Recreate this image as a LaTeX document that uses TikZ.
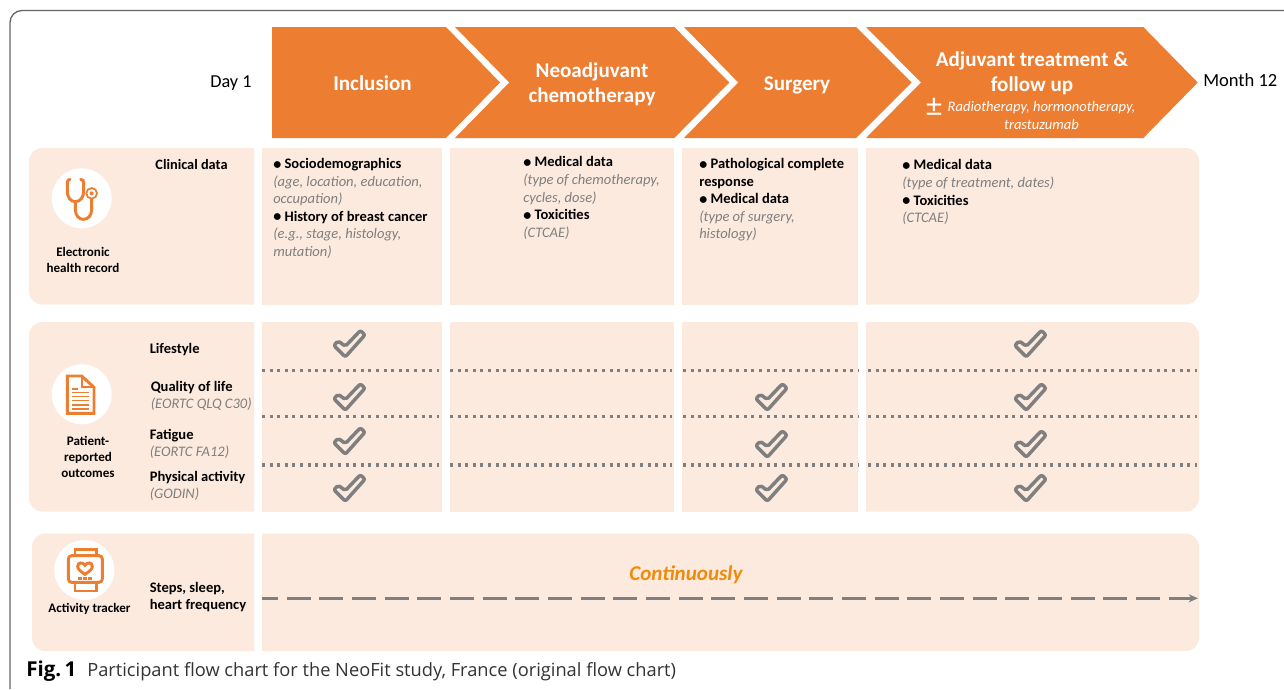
\documentclass[tikz,border=0pt]{standalone}
\usepackage{fontspec}
\setmainfont{Carlito}
\newfontfamily\capfont{Open Sans}
\usetikzlibrary{arrows.meta}
\definecolor{orng}{HTML}{ED7D31}
\definecolor{panel}{HTML}{FCEADF}
\definecolor{gry}{HTML}{7F7F7F}
\definecolor{contc}{HTML}{EE8A0C}
\definecolor{frm}{HTML}{666666}
\newcommand{\itb}[1]{{\bfseries\makebox[8.5pt][l]{\raisebox{-0.5pt}{\fontsize{12pt}{12pt}\selectfont\textbullet}}#1}}
\newcommand{\nte}[1]{{\itshape\color{gry}#1}}
\tikzset{
  x=0.75pt,y=-0.75pt,
  chev/.style={fill=orng,draw=none},
  pnl/.style={fill=panel,draw=none},
  head/.style={text=white,font=\fontsize{15.8pt}{18.7pt}\selectfont\bfseries,align=center,inner sep=0pt},
  side/.style={font=\fontsize{9.8pt}{12pt}\selectfont\bfseries,align=center,inner sep=0pt},
  rowl/.style={font=\fontsize{10.9pt}{12.9pt}\selectfont,align=left,anchor=west,inner sep=0pt},
  blk/.style={font=\fontsize{10.9pt}{13.15pt}\selectfont,align=left,anchor=north west,inner sep=0pt},
  dotl/.style={draw=gry,line width=2.3pt,dash pattern=on 2.3pt off 3.4pt},
  icon/.style={draw=orng,line width=2.2pt,fill=none},
  chk/.pic={
    \draw[draw=gry,line width=2.6pt,fill=panel,line join=round,rounded corners=1.5pt]
      (-15.2,1.7) -- (-10.8,-2.8) -- (-3.7,2.6) -- (11.4,-13.2) -- (16,-8.8) -- (-3.7,13.2) -- cycle;
  }
}
\begin{document}
\begin{tikzpicture}
\useasboundingbox (0,0) rectangle (1284,689);
\fill[white] (0,0) rectangle (1284,689);
% frame
\draw[draw=frm,line width=1pt,rounded corners=9pt] (1284,10.5) -- (10,10.5) -- (10,689);
% chevrons
\fill[chev] (272,27) -- (446,27) -- (500,82.5) -- (446,138) -- (272,138) -- cycle;
\fill[chev] (455,27) -- (674.3,27) -- (729.3,82.5) -- (674.3,138) -- (455,138) -- (509.3,82.5) -- cycle;
\fill[chev] (684,27) -- (856,27) -- (911.7,82.5) -- (856,138) -- (684,138) -- (738.3,82.5) -- cycle;
\fill[chev] (866,27) -- (1143.3,27) -- (1197.7,82.5) -- (1143.3,138) -- (866,138) -- (921,82.5) -- cycle;
% row 1 panels
\fill[pnl] (254,148) [rounded corners=10pt] -- (29,148) -- (29,304.5) [sharp corners] -- (254,304.5) -- cycle;
\fill[pnl] (262,148) rectangle (441.7,304.5);
\fill[pnl] (450,148) rectangle (674,304.5);
\fill[pnl] (681.7,148) rectangle (858,304.5);
\fill[pnl] (866,148) [rounded corners=10pt] -- (1199,148) -- (1199,304.5) [sharp corners] -- (866,304.5) -- cycle;
% row 2 panels
\fill[pnl] (254,322) [rounded corners=10pt] -- (29,322) -- (29,511.5) [sharp corners] -- (254,511.5) -- cycle;
\fill[pnl] (262,322) rectangle (441.7,511.5);
\fill[pnl] (450,322) rectangle (674,511.5);
\fill[pnl] (681.7,322) rectangle (858,511.5);
\fill[pnl] (866,322) [rounded corners=10pt] -- (1199,322) -- (1199,511.5) [sharp corners] -- (866,511.5) -- cycle;
% row 3 panels
\fill[pnl] (254,533.5) [rounded corners=10pt] -- (32,533.5) -- (32,651) [sharp corners] -- (254,651) -- cycle;
\fill[pnl] (262,533.5) [rounded corners=10pt] -- (1199,533.5) -- (1199,651) [sharp corners] -- (262,651) -- cycle;
% dotted separators
\foreach \yy in {370.4,416.7,465}{
  \draw[dotl] (262,\yy) -- (439,\yy);
  \draw[dotl] (450,\yy) -- (672,\yy);
  \draw[dotl] (683,\yy) -- (858,\yy);
  \draw[dotl] (868,\yy) -- (1197,\yy);
}
% white icon discs
\fill[white] (81.7,198.3) circle (30);
\fill[white] (81.7,394.3) circle (30);
\fill[white] (84.3,570) circle (30);
% stethoscope
\begin{scope}[shift={(40,160)},x=0.25pt,y=-0.25pt]
  \draw[icon,line cap=round] (90,58) .. controls (80,60) and (82,70) .. (82,78) -- (82,95) .. controls (82,112) and (92,125) .. (106,125) .. controls (120,125) and (131,112) .. (131,95) -- (131,70) .. controls (131,62) and (130,60) .. (122,58);
  \draw[icon,line cap=round] (106,125) -- (106,148) .. controls (106,168) and (118,178) .. (130,178) .. controls (143,178) and (155,168) .. (155,148) -- (155,118);
  \draw[draw=orng,line width=1.3pt] (155,100) circle (16);
  \fill[orng] (155,100) circle (6);
\end{scope}
% document
\begin{scope}[shift={(40,355)},x=0.25pt,y=-0.25pt]
  \draw[icon,line join=miter] (82,63) -- (125,63) -- (162,97) -- (162,175) -- (82,175) -- cycle;
  \draw[icon,line width=1.4pt] (125,63) -- (125,97) -- (162,97);
  \draw[draw=orng,line width=1.2pt] (97,102) -- (113,102);
  \foreach \yy in {113,125,137,150,162}{\draw[draw=orng,line width=1.2pt] (97,\yy) -- (147,\yy);}
\end{scope}
% watch
\begin{scope}[shift={(45,535)},x=0.25pt,y=-0.25pt]
  \draw[icon,rounded corners=2.5pt] (70,62) rectangle (172,142);
  \draw[icon] (90,62) -- (90,43) -- (155,43) -- (155,62);
  \draw[icon] (90,142) -- (90,168) -- (155,168) -- (155,142);
  \draw[icon] (120,118) .. controls (105,108) and (98,102) .. (98,94) .. controls (98,82) and (114,80) .. (120,91) .. controls (126,80) and (142,82) .. (142,94) .. controls (142,102) and (135,108) .. (120,118) -- cycle;
  \fill[orng] (100,125) rectangle (110,135);
  \fill[orng] (115,125) rectangle (125,135);
  \fill[orng] (130,125) rectangle (140,135);
\end{scope}
% check marks
\foreach \cx/\cy in {349/343.7,349/397,349/441,349/488,771/397,771/444,771/488,1030/343.7,1030/397,1030/444,1030/488}{
  \pic at (\cx,\cy) {chk};
}
% chevron labels
\node[head] (inclusion) at (372.5,83) {Inclusion};
\node[head] (neo) at (592,84) {Neoadjuvant\\chemotherapy};
\node[head] (surgery) at (797,85) {Surgery};
\node[head] (adj) at (1032,73.5) {Adjuvant treatment \&\\follow up};
\node[inner sep=0pt,text=white,font=\fontsize{24pt}{24pt}\selectfont] (pm) at (934,107) {±};
\node[inner sep=0pt,text=white,align=center,font=\fontsize{10.9pt}{13pt}\selectfont\itshape] (radio) at (1041.5,115.5) {Radiotherapy, hormonotherapy,\\trastuzumab};
\node[inner sep=0pt,anchor=west,font=\fontsize{13.7pt}{15pt}\selectfont] (day) at (210,83) {Day 1};
\node[inner sep=0pt,anchor=west,font=\fontsize{13.9pt}{15pt}\selectfont] (month) at (1203,80) {Month 12};
% row 1 labels
\node[side,font=\fontsize{10.75pt}{13pt}\selectfont\bfseries] (clin) at (191.5,165) {Clinical data};
\node[side] (ehr) at (83,260) {Electronic\\health record};
\node[blk] (b1) at (273,158) {\itb{Sociodemographics}\\\nte{(age, location, education,}\\\nte{occupation)}\\\itb{History of breast cancer}\\\nte{(e.g., stage, histology,}\\\nte{mutation)}};
\node[blk] (b2) at (523,156.5) {\itb{Medical data}\\\nte{(type of chemotherapy,}\\\nte{cycles, dose)}\\\itb{Toxicities}\\\nte{(CTCAE)}};
\node[blk] (b3) at (699,158) {\itb{Pathological complete}\\{\bfseries response}\\\itb{Medical data}\\\nte{(type of surgery,}\\\nte{histology)}};
\node[blk] (b4) at (902,159.5) {\itb{Medical data}\\\nte{(type of treatment, dates)}\\\itb{Toxicities}\\\nte{(CTCAE)}};
% row 2 labels
\node[side] (pro) at (88,457) {Patient-\\reported\\outcomes};
\node[rowl,font=\fontsize{10.9pt}{12.9pt}\selectfont\bfseries] (life) at (149.5,349.5) {Lifestyle};
\node[rowl] (qol) at (150.5,396) {{\bfseries Quality of life}\\\nte{(EORTC QLQ C30)}};
\node[rowl] (fat) at (149.5,444) {{\bfseries Fatigue}\\\nte{(EORTC FA12)}};
\node[rowl] (phys) at (149.5,486) {{\bfseries Physical activity}\\\nte{(GODIN)}};
% row 3 labels
\node[side] (act) at (89.5,609) {Activity tracker};
\node[rowl,font=\fontsize{10.9pt}{12.9pt}\selectfont\bfseries] (steps) at (149.5,597) {Steps, sleep,\\heart frequency};
\node[inner sep=0pt,text=contc,font=\fontsize{15.8pt}{18pt}\selectfont\bfseries\itshape] (cont) at (686,575) {Continuously};
\coordinate (ds) at (262,598.3);
\coordinate (de) at (1198,598.3);
\draw[draw=gry,line width=2pt,dash pattern=on 18pt off 6.5pt,dash phase=6pt,-{Stealth[length=7pt,width=6pt]}] (ds) -- (de);
% caption
\node[inner sep=0pt,anchor=base west,font=\capfont\fontsize{15.4pt}{16pt}\selectfont\bfseries] (figl) at (26,676.5) {Fig.\,1};
\node[inner sep=0pt,anchor=base west,font=\capfont\fontsize{13.7pt}{16pt}\selectfont,text=black!80] (capt) at (87,676.5) {Participant flow chart for the NeoFit study, France (original flow chart)};
\end{tikzpicture}
\end{document}
